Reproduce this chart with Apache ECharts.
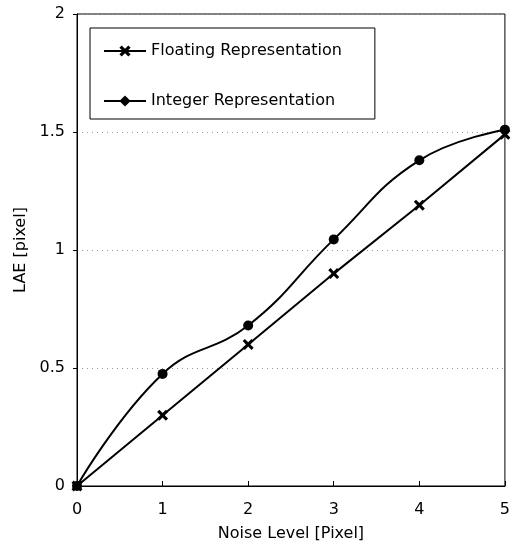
<!DOCTYPE html>
<html>
<head>
<meta charset="utf-8">
<script src="https://cdn.jsdelivr.net/npm/echarts@6/dist/echarts.min.js"></script>
<style>html,body{margin:0;padding:0;background:#fff;}#c{width:513px;height:547px;}</style>
</head>
<body>
<div id="c"></div>
<script>
const noiseLevels = [0, 1, 2, 3, 4, 5];
const floatingLAE = [0, 0.30, 0.60, 0.90, 1.19, 1.49];
const integerLAE = [0, 0.475, 0.68, 1.045, 1.38, 1.51];
const seriesNames = ['Floating Representation', 'Integer Representation'];
const xAxisName = 'Noise Level [Pixel]';
const yAxisName = 'LAE [pixel]';

const FONT = 'DejaVu Sans';
const crossSymbol = 'path://M0,2L2,0L5,3L8,0L10,2L7,5L10,8L8,10L5,7L2,10L0,8L3,5Z';

function pairs(xs, ys) { return xs.map((x, i) => [x, ys[i]]); }

const chart = echarts.init(document.getElementById('c'), null, { renderer: 'canvas' });
chart.setOption({
  animation: false,
  backgroundColor: '#fff',
  grid: { left: 77, right: 6, top: 14, bottom: 61, show: true, borderColor: '#000', borderWidth: 1, backgroundColor: 'transparent' },
  legend: {
    data: seriesNames,
    orient: 'vertical',
    left: 90, top: 28,
    itemWidth: 42, itemHeight: 14, itemGap: 34,
    padding: [15, 33, 10, 13],
    backgroundColor: '#fff',
    borderColor: '#000', borderWidth: 1, borderRadius: 0,
    textStyle: { fontFamily: FONT, fontSize: 16, color: '#000' },
    selectedMode: false
  },
  xAxis: {
    type: 'value', min: 0, max: 5, interval: 1,
    name: xAxisName, nameLocation: 'middle', nameGap: 40,
    nameTextStyle: { fontFamily: FONT, fontSize: 16, color: '#000' },
    axisLine: { lineStyle: { color: '#000', width: 1 } },
    axisTick: { inside: true, length: 5, lineStyle: { color: '#000' } },
    axisLabel: { fontFamily: FONT, fontSize: 16, color: '#000', margin: 16 },
    splitLine: { show: false }
  },
  yAxis: {
    type: 'value', min: 0, max: 2, interval: 0.5,
    name: yAxisName, nameLocation: 'middle', nameGap: 38,
    nameTextStyle: { fontFamily: FONT, fontSize: 16, color: '#000' },
    axisLine: { show: true, lineStyle: { color: '#000', width: 1 } },
    axisTick: { show: true, inside: false, length: 4, lineStyle: { color: '#000' } },
    axisLabel: { fontFamily: FONT, fontSize: 16, color: '#000', margin: 12 },
    splitLine: { show: true, lineStyle: { color: '#999', type: [1, 4], width: 1 } }
  },
  series: [
    {
      name: seriesNames[0], type: 'line',
      data: pairs(noiseLevels, floatingLAE),
      symbol: crossSymbol, symbolSize: 11,
      lineStyle: { color: '#000', width: 2 },
      itemStyle: { color: '#000' },
      z: 3
    },
    {
      name: seriesNames[1] + ' ', type: 'line',
      data: pairs(noiseLevels, integerLAE),
      smooth: 0.45,
      symbol: 'circle', symbolSize: 10,
      lineStyle: { color: '#000', width: 2 },
      itemStyle: { color: '#000' },
      z: 3
    },
    {
      name: seriesNames[1], type: 'line',
      data: [],
      symbol: 'diamond', symbolSize: 11,
      lineStyle: { color: '#000', width: 2 },
      itemStyle: { color: '#000' }
    }
  ]
});
</script>
</body>
</html>
